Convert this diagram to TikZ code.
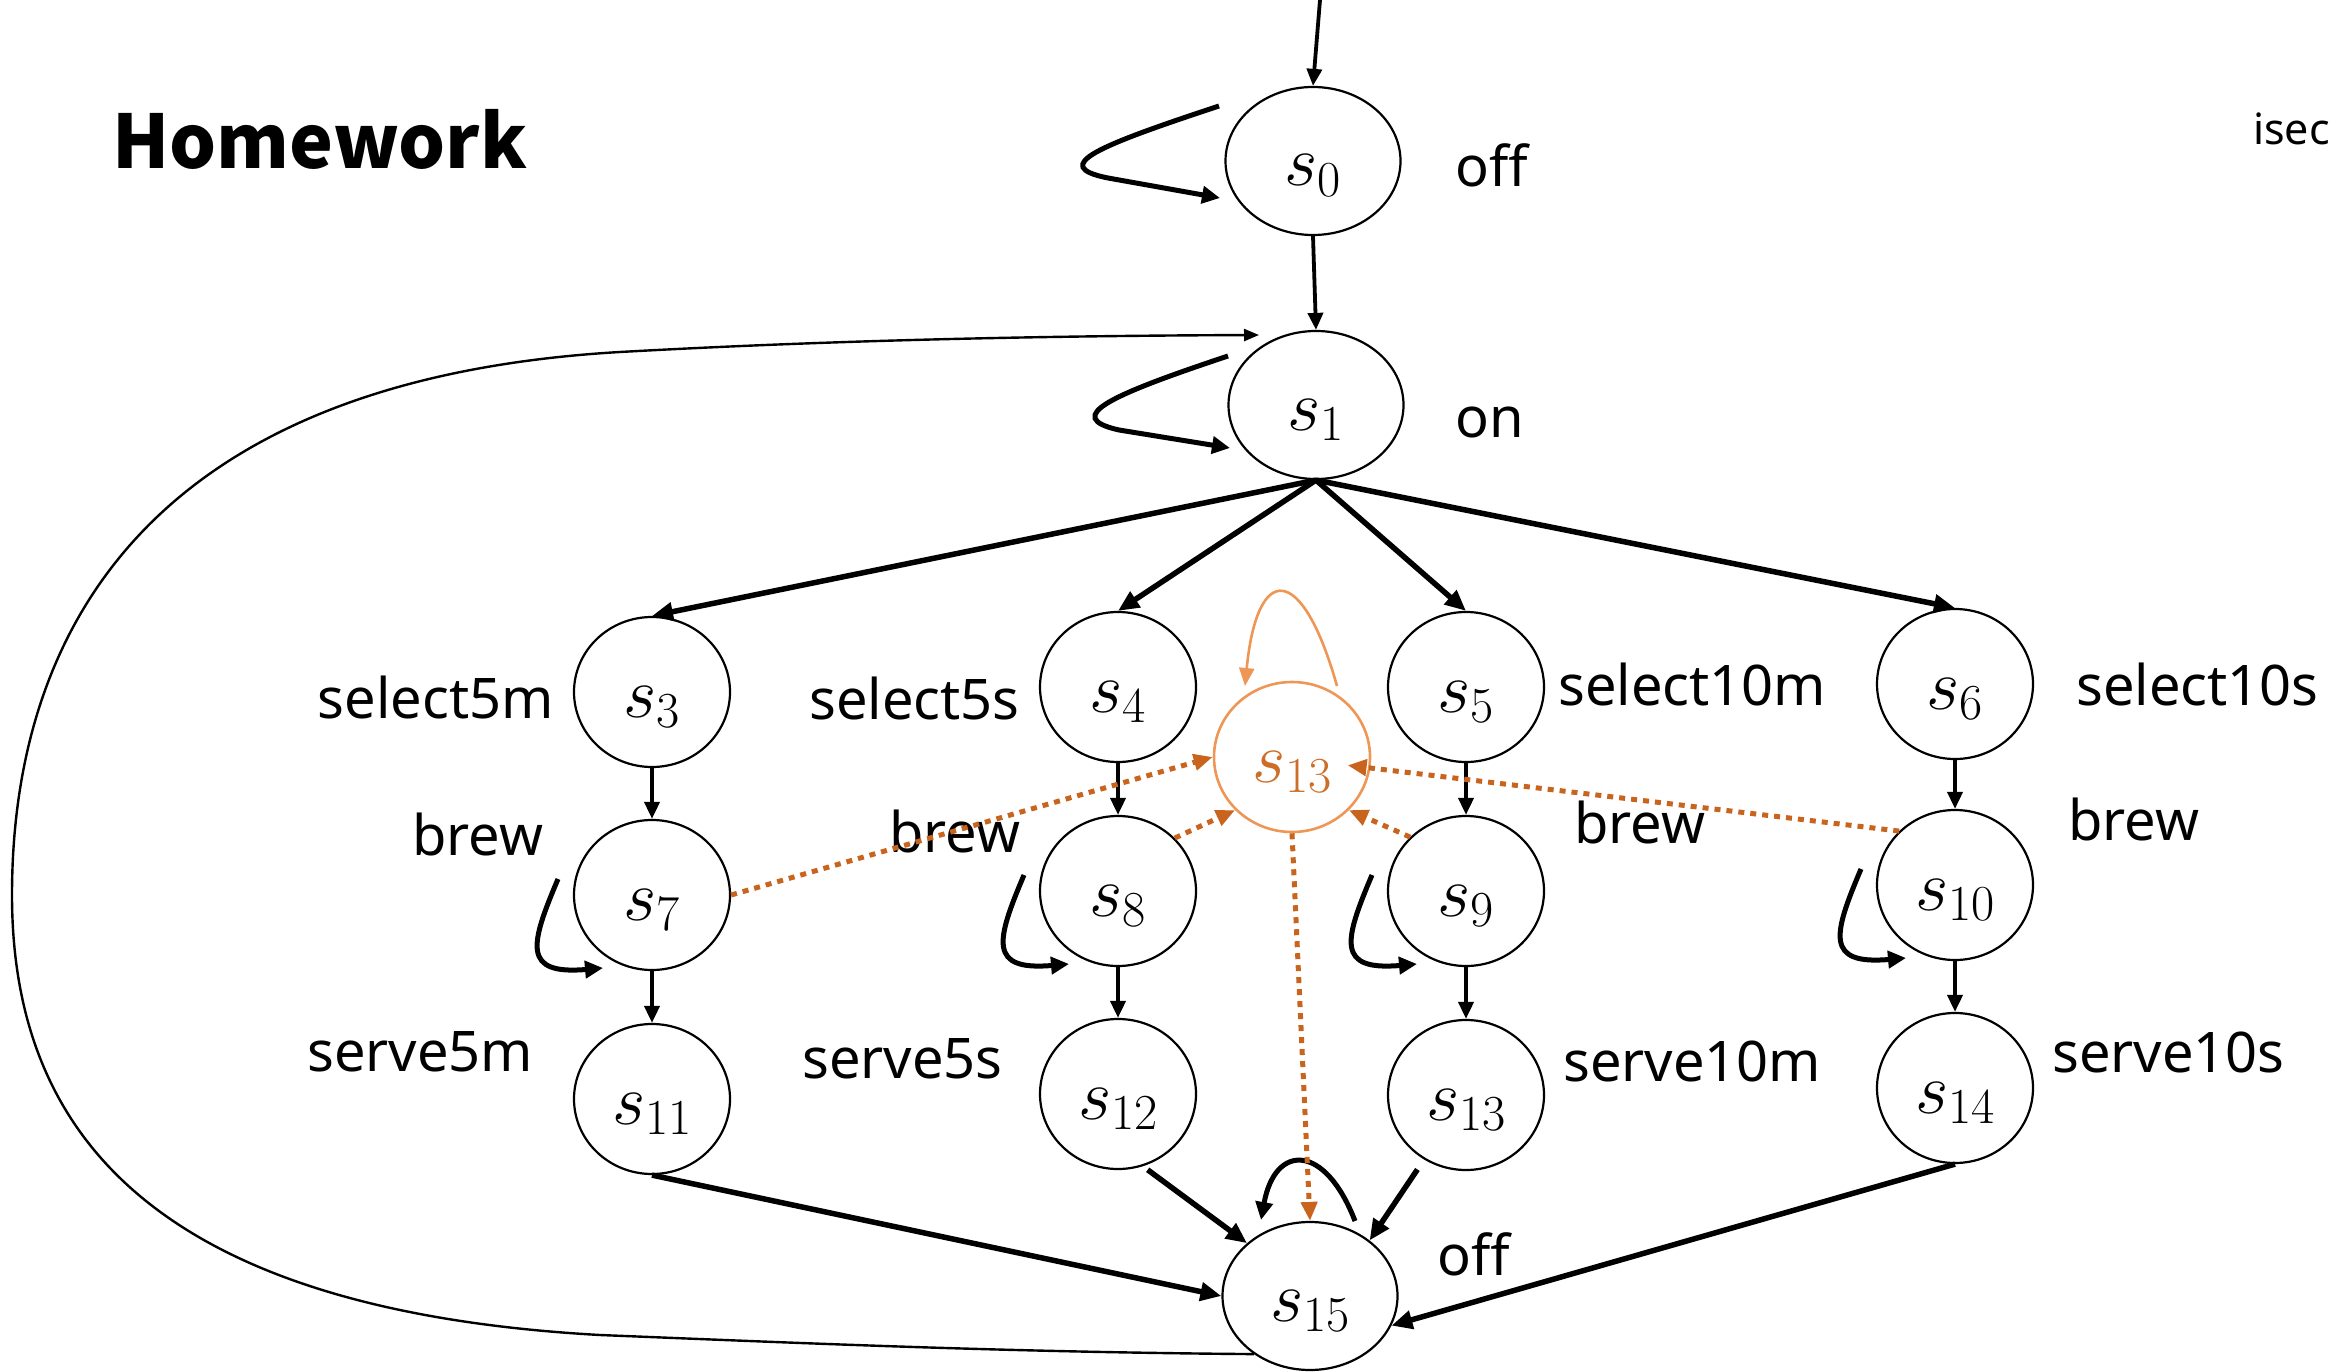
\RequirePackage{fix-cm}
\documentclass[tikz,border=0pt]{standalone}
\usepackage[no-math]{fontspec}
\setmainfont{Noto Sans}
\newfontfamily\hwfont{Noto Sans CJK SC}
\usetikzlibrary{arrows.meta,calc,shapes.geometric}
\definecolor{orD}{RGB}{200,100,30}
\definecolor{orL}{RGB}{237,150,85}
\definecolor{orT}{RGB}{205,110,40}
\tikzset{
  bigst/.style={ellipse,draw,line width=2.2pt,minimum width=175pt,minimum height=148pt,inner sep=0pt,
    text height=60pt,text depth=10pt,font=\fontsize{72}{86}\selectfont},
  st/.style={bigst,minimum width=156pt,minimum height=150pt},
  lbl/.style={inner sep=0pt,font=\fontsize{56}{66}\selectfont},
  ar/.style={line width=5.5pt,-{Triangle[length=21pt,width=18pt]}},
  vr/.style={line width=3.8pt,-{Triangle[length=17pt,width=15pt]}},
  lp/.style={line width=5pt,-{Triangle[length=18pt,width=17pt]}},
  thinl/.style={line width=2.4pt,-{Triangle[length=15pt,width=12pt]}},
  od/.style={draw=orD,line width=5pt,dash pattern=on 6pt off 6pt,-{Triangle[length=19pt,width=16pt,fill=orD]}},
}
\begin{document}
\begin{tikzpicture}[x=1pt,y=-1pt]
\useasboundingbox (0,0) rectangle (2330,1372);
% states
\node[bigst] (s0) at (1313,161) {$s_0$};
\node[bigst] (s1) at (1316,405) {$s_1$};
\node[st] (s3) at (652,692) {$s_3$};
\node[st] (s4) at (1118,687) {$s_4$};
\node[st] (s5) at (1466,687) {$s_5$};
\node[st] (s6) at (1955,684) {$s_6$};
\node[st] (s7) at (652,895) {$s_7$};
\node[st] (s8) at (1118,891) {$s_8$};
\node[st] (s9) at (1466,891) {$s_9$};
\node[st] (s10) at (1955,885) {$s_{10}$};
\node[st] (s11) at (652,1099) {$s_{11}$};
\node[st] (s12) at (1118,1094) {$s_{12}$};
\node[st] (s13b) at (1466,1095) {$s_{13}$};
\node[st] (s14) at (1955,1088) {$s_{14}$};
\node[st,draw=orL,line width=2.6pt,text=orT] (s13o) at (1292,757) {$s_{13}$};
\node[bigst] (s15) at (1310,1296) {$s_{15}$};
% labels
\node[lbl,anchor=base west] (l0) at (1455,187) {off};
\node[lbl,anchor=base west] (l1) at (1455,437) {on};
\node[lbl,anchor=base east] (l3) at (554,718) {select5m};
\node[lbl,anchor=base east] (l4) at (1020,719) {select5s};
\node[lbl,anchor=base west] (l5) at (1558,705) {select10m};
\node[lbl,anchor=base west] (l6) at (2076,705) {select10s};
\node[lbl,anchor=base west] (l7) at (412,855) {brew};
\node[lbl,anchor=base west] (l8) at (889,852) {brew};
\node[lbl,anchor=base west] (l9) at (1574,843) {brew};
\node[lbl,anchor=base west] (l10) at (2068,840) {brew};
\node[lbl,anchor=base west] (l11) at (307,1071) {serve5m};
\node[lbl,anchor=base west] (l12) at (802,1078) {serve5s};
\node[lbl,anchor=base west] (l13) at (1563,1081) {serve10m};
\node[lbl,anchor=base west] (l14) at (2052,1072) {serve10s};
\node[lbl,anchor=base west] (l15) at (1437,1275) {off};
\node[inner sep=0pt,anchor=base west,font=\fontsize{74}{86}\hwfont\bfseries] (hw) at (112,169) {Homework};
\node[inner sep=0pt,anchor=base west,font=\fontsize{43}{50}\selectfont] (isec) at (2253,145) {isec};
% connectors
\coordinate (top) at (1320,0);
\draw[vr] (top) -- (s0.north);
\draw[vr] (s0.south) -- (s1.north);
\foreach \t in {s3,s4,s5,s6} \draw[ar] (s1.south) -- (\t.north);
\draw[vr] (s3.south) -- (s7.north);
\draw[vr] (s4.south) -- (s8.north);
\draw[vr] (s5.south) -- (s9.north);
\draw[vr] (s6.south) -- (s10.north);
\draw[vr] (s7.south) -- (s11.north);
\draw[vr] (s8.south) -- (s12.north);
\draw[vr] (s9.south) -- (s13b.north);
\draw[vr] (s10.south) -- (s14.north);
% self loops
\draw[lp] ($(s0)+(-94,-55)$) .. controls ($(s0)+(-215,-15)$) and ($(s0)+(-265,5)$) .. ($(s0)+(-205,17)$) -- ($(s0)+(-93,37)$);
\draw[lp] ($(s1)+(-88,-49)$) .. controls ($(s1)+(-205,-10)$) and ($(s1)+(-255,12)$) .. ($(s1)+(-197,25)$) -- ($(s1)+(-86,43)$);
\foreach \n in {s7,s8,s9,s10}
  \draw[lp] ($(\n)+(-94,-16)$) .. controls ($(\n)+(-122,50)$) and ($(\n)+(-130,80)$) .. ($(\n)+(-49,73)$);
\draw[draw=orL,line width=2.6pt,-{Triangle[length=18pt,width=15pt,fill=orL]}] ($(s13o)+(45,-71)$) .. controls ($(s13o)+(10,-195)$) and ($(s13o)+(-35,-195)$) .. ($(s13o)+(-47,-71)$);
\draw[lp] ($(s15)+(45,-75)$) .. controls ($(s15)+(15,-153)$) and ($(s15)+(-35,-153)$) .. ($(s15)+(-49,-76)$);
% to s15
\draw[ar] (s11.south) -- (s15.west);
\draw[ar,shorten <=6pt] (s12.-71) -- (s15.140);
\draw[ar,shorten <=12pt] (s13b.237) -- (s15.43);
\draw[ar] (s14.south) -- (s15.-20);
% orange dotted
\draw[od] (s7.east) -- (s13o.west);
\draw[od] (s8.43) -- (s13o.223);
\draw[od] (s9.136) -- (s13o.317);
\draw[od,shorten >=-23pt] (s10.136) -- (s13o.-8);
\draw[od] (s13o.south) -- (s15.north);
% big return loop
\coordinate (bl) at (1259,335);
\draw[thinl] (s15.226) .. controls (1000,1352) and (800,1343) .. (600,1335) .. controls (150,1310) and (12,1130) .. (12,895) .. controls (12,640) and (140,380) .. (620,352) .. controls (800,342) and (1000,336) .. (bl);
\end{tikzpicture}
\end{document}
